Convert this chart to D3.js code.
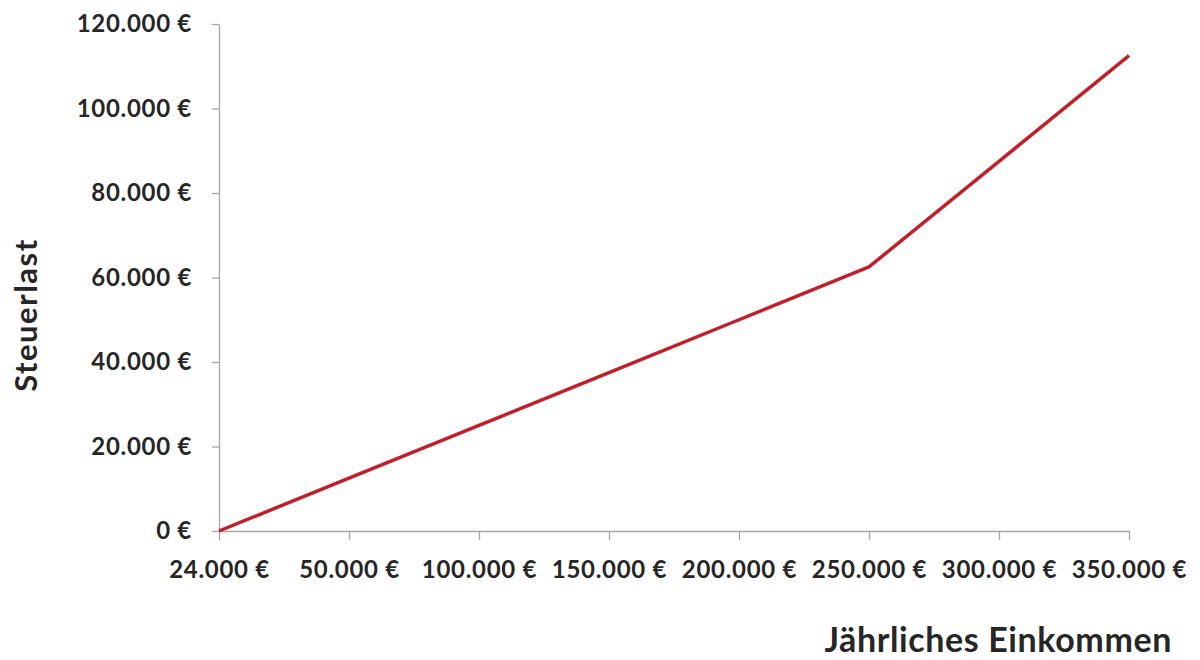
<!DOCTYPE html>
<html>
<head>
<meta charset="utf-8">
<script src="https://cdn.jsdelivr.net/npm/d3@7"></script>
<style>
  body { margin: 0; background: #fff; }
  text { font-family: Lato, "Open Sans", sans-serif; font-weight: bold; fill: #262626; }
</style>
</head>
<body>
<div id="chart"></div>
<script>
// Einkommen-Kategorien (x) und Steuerlast (y)
var incomes = ["24.000 €", "50.000 €", "100.000 €", "150.000 €", "200.000 €", "250.000 €", "300.000 €", "350.000 €"];
var taxes = [0, 12500, 25000, 37500, 50000, 62500, 87500, 112500];
var yTicks = [0, 20000, 40000, 60000, 80000, 100000, 120000];

var W = 1200, H = 660;
var margin = { top: 24, right: 71, bottom: 129, left: 219 };
var width = W - margin.left - margin.right,
    height = H - margin.top - margin.bottom;

var svg = d3.select("#chart")
    .append("svg")
    .attr("width", W)
    .attr("height", H)
    .append("g")
    .attr("transform", "translate(" + margin.left + "," + margin.top + ")");

var xScale = d3.scalePoint()
    .domain(incomes)
    .range([0, width]);

var yScale = d3.scaleLinear()
    .domain([0, 120000])
    .range([height, 0]);

function fmt(v) {
    return v.toLocaleString("de-DE") + " €";
}

var xAxis = svg.append("g")
    .attr("transform", "translate(0," + height + ")")
    .call(d3.axisBottom(xScale).tickSize(9).tickSizeOuter(0).tickPadding(21));

var yAxis = svg.append("g")
    .call(d3.axisLeft(yScale).tickValues(yTicks).tickFormat(fmt).tickSize(7).tickSizeOuter(0).tickPadding(20));

[xAxis, yAxis].forEach(function(a) {
    a.select(".domain").attr("stroke", "#a6a6a6").attr("stroke-width", 1.3);
    a.selectAll(".tick line").attr("stroke", "#a6a6a6").attr("stroke-width", 1.3);
    a.selectAll(".tick text")
        .attr("fill", "#262626")
        .style("font-family", "Lato, 'Open Sans', sans-serif")
        .style("font-weight", "bold")
        .style("font-size", "24px")
        .style("letter-spacing", "0.7px");
});

var line = d3.line()
    .x(function(d, i) { return xScale(incomes[i]); })
    .y(function(d) { return yScale(d); });

svg.append("path")
    .datum(taxes)
    .attr("fill", "none")
    .attr("stroke", "#c0202a")
    .attr("stroke-width", 3.5)
    .attr("stroke-linejoin", "round")
    .attr("d", line);

// Achsentitel
svg.append("text")
    .attr("x", 1172 - margin.left)
    .attr("y", 652 - margin.top)
    .attr("text-anchor", "end")
    .style("font-size", "34px")
    .style("letter-spacing", "0.6px")
    .text("Jährliches Einkommen");

svg.append("text")
    .attr("transform", "translate(" + (37 - margin.left) + "," + (315 - margin.top) + ") rotate(-90)")
    .attr("text-anchor", "middle")
    .style("font-size", "31px")
    .style("letter-spacing", "1.5px")
    .text("Steuerlast");
</script>
</body>
</html>
